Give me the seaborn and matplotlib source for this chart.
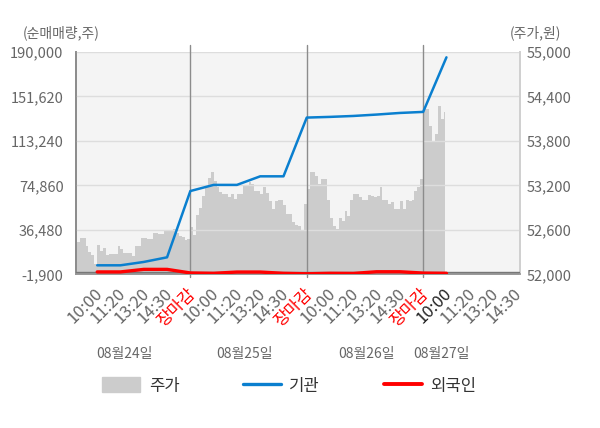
import numpy as np
import pandas as pd
import seaborn as sns
import matplotlib.pyplot as plt
from matplotlib.patches import Patch
from matplotlib.lines import Line2D
from matplotlib.transforms import ScaledTranslation

sns.set_theme(style='white')
plt.rcParams['font.family'] = ['Noto Sans CJK KR', 'DejaVu Sans']

dates = ['08월24일', '08월25일', '08월26일', '08월27일']
times = ['10:00', '11:20', '13:20', '14:30', '장마감']
tick_labels = times * 3 + times[:4]

# 주가 (원) - intraday, 40 samples per day
price_d1 = [52140, 52430, 52490, 52490, 52380, 52300, 52260, 52140, 52400, 52310,
            52360, 52260, 52270, 52270, 52270, 52380, 52340, 52290, 52290, 52290,
            52250, 52380, 52380, 52490, 52490, 52480, 52480, 52560, 52560, 52540,
            52540, 52580, 52580, 52580, 52610, 52560, 52520, 52500, 52470, 52480]
price_d2 = [52640, 52530, 52800, 52900, 53060, 53200, 53300, 53380, 53260, 53175,
            53110, 53085, 53085, 53040, 53085, 53020, 53085, 53085, 53200, 53200,
            53240, 53220, 53130, 53120, 53085, 53175, 53100, 52995, 52880, 52990,
            53000, 53000, 52940, 52820, 52810, 52700, 52660, 52650, 52590, 52950]
price_d3 = [53150, 53380, 53380, 53330, 53220, 53290, 53280, 53000, 52760, 52650,
            52610, 52760, 52720, 52850, 52790, 53000, 53085, 53085, 53050, 53000,
            53000, 53070, 53060, 53040, 53060, 53175, 53000, 53000, 52950, 52970,
            52880, 52880, 52990, 52880, 53000, 52990, 53000, 53130, 53175, 53290]
price_d4 = [54230, 54230, 54000, 53790, 53900, 54270, 54100, 54190]

# 순매매량 (주) at each label time
inst = [5900, 5900, 8800, 12800, 70000,
        75300, 75300, 82700, 82700, 133400,
        134000, 134800, 136000, 137400, 138300,
        185400]
foreign = [200, 200, 2400, 2400, -700,
           -1000, 100, 100, -1000, -1400,
           -1000, -1100, 350, 350, -800,
           -1000]

vol_ticks = [-1900, 36480, 74860, 113240, 151620, 190000]
price_ticks = [52000, 52600, 53200, 53800, 54400, 55000]

price = price_d1 + price_d2 + price_d3 + price_d4
step = 5 / len(price_d1)
px = (np.arange(len(price)) + 0.5) * step
flow = pd.DataFrame({'x': np.arange(1, len(inst) + 1), '기관': inst, '외국인': foreign})

fig = plt.figure(figsize=(6, 4.28), dpi=100)
ax = fig.add_axes([0.1267, 0.359, 0.74, 0.5195])
ax.set_facecolor('#f4f4f4')
ax2 = ax.twinx()

# price area on the main axes, ticks on the right
ax.fill_between(px, price_ticks[0], price, step='mid', color='#cccccc', lw=0, zorder=2)
ax.set_ylim(price_ticks[0], price_ticks[-1])
ax.set_yticks(price_ticks)
ax.set_yticklabels([f'{v:,}' for v in price_ticks])
ax.set_xlim(0.09, 19.16)

sns.lineplot(data=flow, x='x', y='기관', color='#0a7fcf', lw=1.8, ax=ax2, zorder=5)
sns.lineplot(data=flow, x='x', y='외국인', color='#ff0000', lw=2.4, ax=ax2, zorder=6)
ax2.set_ylim(vol_ticks[0], vol_ticks[-1])
ax2.set_yticks(vol_ticks)
ax2.set_yticklabels([f'{v:,}' for v in vol_ticks])
ax2.set_xlim(0.09, 19.16)
ax2.set_xlabel('')
ax2.set_ylabel('')
ax2.axhline(0, color='#777777', lw=1, zorder=4)
for v in vol_ticks[1:]:
    ax2.axhline(v, color='#dddddd', lw=1, zorder=1)
for d in (5, 10, 15):
    ax2.axvline(d, ymin=-0.014, ymax=1.032, color='#8c8c8c', lw=1, clip_on=False, zorder=3)

ax.yaxis.tick_right()
ax2.yaxis.tick_left()

ax.set_xticks(np.arange(1, len(tick_labels) + 1))
ax.set_xticklabels(tick_labels, rotation=45, ha='right', va='center', rotation_mode='anchor')
ax.tick_params(axis='x', length=0, pad=12, labelsize=12, colors='#666666')
ax.tick_params(axis='y', length=0, pad=5, labelsize=10.5, labelcolor='#666666')
ax2.tick_params(axis='y', length=0, pad=9, labelsize=10.5, labelcolor='#666666')
shift = ScaledTranslation(0.03, 0, fig.dpi_scale_trans)
for t in ax.get_xticklabels():
    t.set_transform(t.get_transform() + shift)
    if t.get_text() == '장마감':
        t.set_color('#ff0000')
ax.get_xticklabels()[15].set_color('#222222')

for a in (ax, ax2):
    a.spines['top'].set_visible(False)
    a.spines['left'].set_color('#8c8c8c')
    a.spines['bottom'].set_color('#999999')
    a.spines['right'].set_color('#d0d0d0')

date_pos = [2.15, 7.31, 12.55, 15.77]
for p, lab in zip(date_pos, dates):
    ax.text(p, -0.36, lab, transform=ax.get_xaxis_transform(), ha='center', va='center',
            fontsize=10, color='#666666')

fig.text(0.102, 0.923, '(순매매량,주)', ha='center', va='center', fontsize=10, color='#666666')
fig.text(0.893, 0.923, '(주가,원)', ha='center', va='center', fontsize=10, color='#666666')

handles = [Patch(color='#cccccc'), Line2D([], [], color='#0a7fcf', lw=2.4),
           Line2D([], [], color='#ff0000', lw=2.8)]
leg = fig.legend(handles, ['주가', '기관', '외국인'], loc='center', bbox_to_anchor=(0.482, 0.098),
                 ncol=3, frameon=False, fontsize=12, handlelength=2.3, handleheight=1.0,
                 handletextpad=0.5, columnspacing=3.8)
for t in leg.get_texts():
    t.set_color('#333333')

fig.savefig('out.png', dpi=100)
